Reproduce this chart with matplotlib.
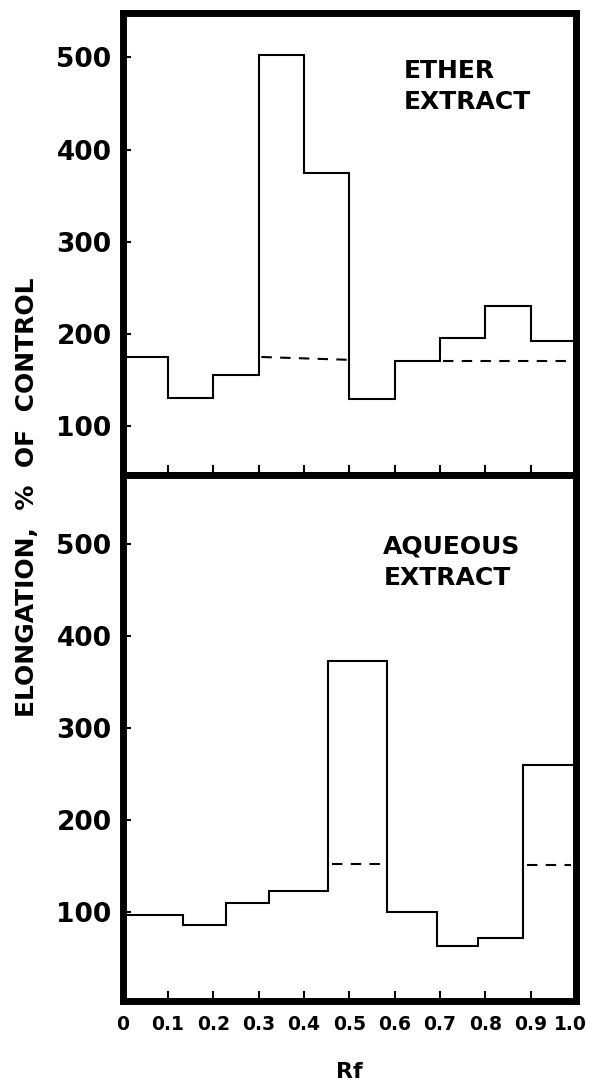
import numpy as np
from matplotlib import pyplot as plt
from matplotlib import transforms

#bin edges along the chromatogram (Rf)
etherEdges = [0.0, 0.1, 0.2, 0.3, 0.4, 0.5, 0.6, 0.7, 0.8, 0.9, 1.0]
etherValues = [175, 131, 155, 502, 374, 129, 171, 196, 230, 192]
#dashed control levels for the ether extract
etherDashX = [[0.306, 0.494], [0.707, 0.985]]
etherDashY = [[175, 172], [171, 171]]

aqueousEdges = [0.0, 0.132, 0.228, 0.323, 0.454, 0.582, 0.693, 0.784, 0.884, 1.0]
aqueousValues = [96, 86, 110, 123, 373, 100, 63, 72, 260]
aqueousDashX = [[0.461, 0.575], [0.891, 0.99]]
aqueousDashY = [[152, 152], [151, 151]]

yTicks = [100, 200, 300, 400, 500]
xTicks = [0, 0.1, 0.2, 0.3, 0.4, 0.5, 0.6, 0.7, 0.8, 0.9, 1.0]
xTickLabels = ["0", "0.1", "0.2", "0.3", "0.4", "0.5", "0.6", "0.7", "0.8", "0.9", "1.0"]

plt.rcParams['font.family'] = ['DejaVu Sans']
plt.rcParams['font.weight'] = 'bold'

fig = plt.figure(figsize=(5.89, 10.87), dpi=100)
axTop = fig.add_axes([0.2083, 0.5630, 0.7696, 0.4250])
axBot = fig.add_axes([0.2083, 0.0791, 0.7696, 0.4839])


def styleAxis(ax, ylim):
    #heavy frame, short inward ticks like the hand drawn original
    ax.set_xlim(0, 1)
    ax.set_ylim(*ylim)
    for side in ax.spines.values():
        side.set_linewidth(5)
    ax.set_yticks(yTicks)
    ax.set_xticks(xTicks)
    ax.tick_params(axis='y', direction='in', length=6, width=1.5, pad=8, labelsize=19)
    ax.tick_params(axis='x', direction='in', length=7, width=1.5, pad=10, labelsize=13.5)


styleAxis(axTop, (47, 548))
axTop.stairs(etherValues, etherEdges, color='black', linewidth=1.5)
for xs, ys in zip(etherDashX, etherDashY):
    axTop.plot(xs, ys, color='black', linewidth=1.5, linestyle=(0, (5, 4)))
axTop.set_xticklabels([])
axTop.text(0.619, 0.90, "ETHER\nEXTRACT", transform=axTop.transAxes,
           ha='left', va='top', fontsize=18, fontweight='bold', linespacing=1.35)

styleAxis(axBot, (3, 575))
axBot.stairs(aqueousValues, aqueousEdges, color='black', linewidth=1.5)
for xs, ys in zip(aqueousDashX, aqueousDashY):
    axBot.plot(xs, ys, color='black', linewidth=1.5, linestyle=(0, (5, 4)))
axBot.set_xticklabels(xTickLabels)
#the last label sits against the page edge, nudge it left so it fits
lastLabel = axBot.get_xticklabels()[-1]
lastLabel.set_transform(lastLabel.get_transform() +
                        transforms.ScaledTranslation(-4 / 72, 0, fig.dpi_scale_trans))
axBot.text(0.575, 0.886, "AQUEOUS\nEXTRACT", transform=axBot.transAxes,
           ha='left', va='top', fontsize=18, fontweight='bold', linespacing=1.35)

fig.text(0.593, 0.014, "Rf", ha='center', va='center', fontsize=16, fontweight='bold')
fig.text(0.045, 0.543, "ELONGATION,  %  OF  CONTROL", rotation=90,
         ha='center', va='center', fontsize=18, fontweight='bold')

fig.savefig("out.png", dpi=100)
